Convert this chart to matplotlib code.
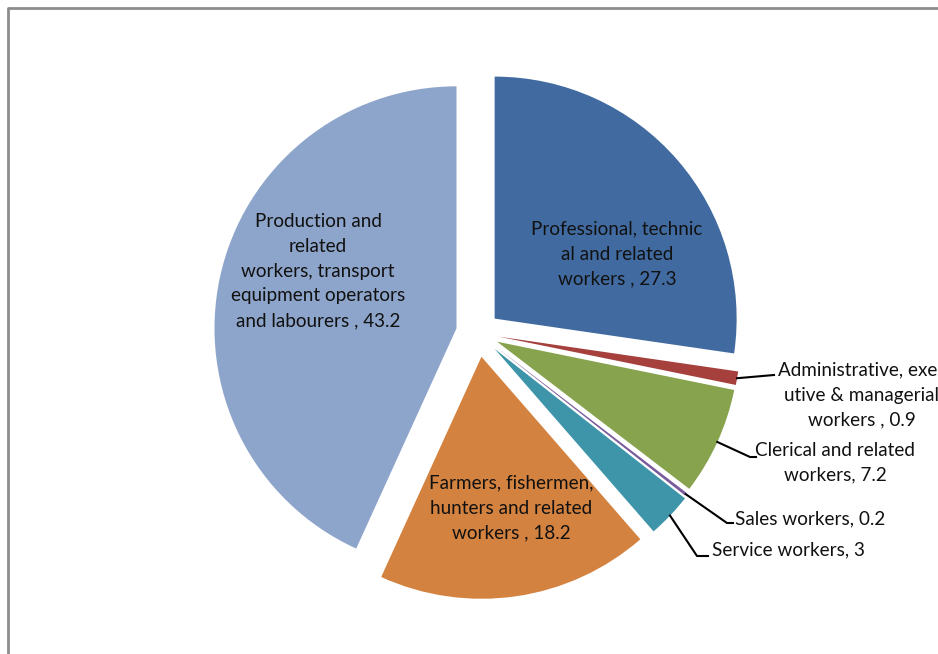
import matplotlib
matplotlib.use("Agg")
import matplotlib.pyplot as plt
import numpy as np

# occupational groups, percent share
labels = [
    "Professional, technic\nal and related\nworkers , 27.3",
    "Administrative, exec\nutive & managerial\nworkers , 0.9",
    "Clerical and related\nworkers, 7.2",
    "Sales workers, 0.2",
    "Service workers, 3",
    "Farmers, fishermen,\nhunters and related\nworkers , 18.2",
    "Production and\nrelated\nworkers, transport\nequipment operators\nand labourers , 43.2",
]
values = [27.3, 0.9, 7.2, 0.2, 3, 18.2, 43.2]
colors = ["#416ba0", "#a5403d", "#87a34d", "#7a5c9c", "#3e95a9", "#d4823f", "#8ea5cb"]
explode = [22, 21, 21, 21, 23, 24, 22]

W, H = 938, 654
def Y(y):
    return H - y

plt.rcParams['font.family'] = ['Lato', 'DejaVu Sans']

fig = plt.figure(figsize=(W / 100, H / 100), dpi=100)
ax = fig.add_axes([0, 0, 1, 1])

wedges, _ = ax.pie(values, colors=colors, explode=explode, startangle=90,
                   counterclock=False, radius=242, center=(478, Y(333)),
                   wedgeprops=dict(linewidth=0))
ax.set_xlim(0, W)
ax.set_ylim(0, H)
ax.set_aspect("equal")
ax.axis("off")

# chart area frame (only top/left visible in the crop)
ax.plot([8, 8, W + 5], [-5, Y(8), Y(8)], color="#8c8c8c", lw=2, clip_on=False)

fs = 13.6
ls = 1.55
# labels inside the big slices
inside = {0: (617, 254), 5: (511, 508), 6: (318, 271)}
for i, (x, y) in inside.items():
    ax.text(x, Y(y), labels[i], ha="center", va="center", fontsize=fs,
            linespacing=ls, color="#111111")

# labels outside with leader lines: (text pos, align, path after edge point)
# the first one runs off the right edge, as in the original crop
outside = {
    1: ((862, 395), "center", [(774, 375)]),
    2: ((835, 463), "center", [(750, 457), (756, 457)]),
    3: ((735, 519), "left", [(727, 523), (733, 523)]),
    4: ((712, 550), "left", [(697, 556), (708, 556)]),
}
for i, ((x, y), ha, path) in outside.items():
    w = wedges[i]
    mid = np.deg2rad((w.theta1 + w.theta2) / 2)
    cx, cy = w.center
    sx, sy = cx + w.r * np.cos(mid), cy + w.r * np.sin(mid)
    px = [sx] + [p[0] for p in path]
    py = [sy] + [Y(p[1]) for p in path]
    ax.plot(px, py, color="black", lw=1.5)
    ax.text(x, Y(y), labels[i], ha=ha, va="center", fontsize=fs,
            linespacing=ls, color="#111111", multialignment="center")

fig.savefig("out.png", dpi=100)
